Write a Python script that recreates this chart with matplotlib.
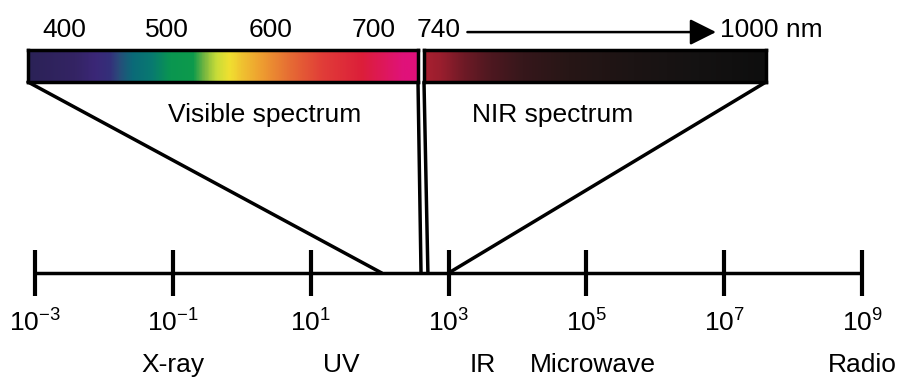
import numpy as np
import matplotlib
matplotlib.use('Agg')
import matplotlib.pyplot as plt
from matplotlib.colors import LinearSegmentedColormap
from matplotlib.patches import ConnectionPatch

plt.rcParams['font.family'] = ['Liberation Sans', 'DejaVu Sans']
plt.rcParams['mathtext.fontset'] = 'custom'
plt.rcParams['mathtext.rm'] = 'Liberation Sans'

# --- data ---
decades = [-3, -1, 1, 3, 5, 7, 9]          # log10 of wavelength (nm) at the ticks
bands = ['X-ray', 'UV', 'IR', 'Microwave', 'Radio']
band_pos = [-1.0, 1.45, 3.5, 5.1, 9.0]
vis_range = (365, 743)
nir_range = (740, 1000)
vis_ticks = [400, 500, 600, 700]
vis_wl = [365, 410, 430, 444, 452, 466, 485, 503, 525, 536, 548, 560, 572, 590, 619, 650, 690, 730, 743]
vis_colors = ['#2b2257', '#342464', '#3b2777', '#34307a', '#2a4a7a', '#0b6a78', '#087a70', '#0a9650',
              '#0d9a4c', '#7ab840', '#c8dc38', '#f0e030', '#f0c430', '#eea030', '#e66c34',
              '#e13e38', '#dc1e3a', '#e0127a', '#e0107a']
nir_wl = [740, 752, 770, 790, 815, 850, 900, 950, 1000]
nir_colors = ['#a82030', '#9a1e2e', '#6e1a26', '#4e1820', '#36171b', '#271616', '#1c1414', '#141212', '#0e0e0e']
meet = [2.03, 2.6, 2.7, 3.0]                # where the fan lines reach the axis

fig = plt.figure(figsize=(8.98, 3.79), dpi=100)
ax = fig.add_axes([0, 0, 1, 1])
ax.set_xlim(-3.508, 9.52)
ax.set_ylim(-106, 273)
ax.axis('off')

# main log axis
ax.plot([decades[0], decades[-1]], [0, 0], color='k', lw=2.5, solid_capstyle='butt')
ax.vlines(decades, -23, 23, color='k', lw=3)
for d in decades:
    ax.text(d, -59, r'$\mathregular{10^{%d}}$' % d, ha='center', va='baseline', fontsize=19)
for name, p in zip(bands, band_pos):
    ax.text(p, -99, name, ha='center', va='baseline', fontsize=19)


def spectrum_bar(rect, rng, wl, cols):
    a = fig.add_axes(rect)
    cmap = LinearSegmentedColormap.from_list(
        'c', list(zip((np.array(wl) - rng[0]) / (rng[1] - rng[0]), cols)))
    grad = np.linspace(rng[0], rng[1], 500)[None, :]
    a.imshow(grad, extent=[rng[0], rng[1], 0, 1], aspect='auto', cmap=cmap,
             vmin=rng[0], vmax=rng[1])
    a.set_xticks([])
    a.set_yticks([])
    for s in a.spines.values():
        s.set_linewidth(2.5)
    return a


ax_vis = spectrum_bar([28 / 898, 297 / 379, 390 / 898, 32 / 379], vis_range, vis_wl, vis_colors)
ax_nir = spectrum_bar([424 / 898, 297 / 379, 342 / 898, 32 / 379], nir_range, nir_wl, nir_colors)

for t in vis_ticks:
    ax_vis.annotate(str(t), xy=(t, 1), xycoords=('data', 'axes fraction'),
                    xytext=(0, 9.5), textcoords='offset points',
                    ha='center', va='baseline', fontsize=19)
ax_nir.annotate('740', xy=(734.5, 1), xycoords=('data', 'axes fraction'),
                xytext=(0, 9.5), textcoords='offset points',
                ha='left', va='baseline', fontsize=19)
ax_nir.annotate('1000 nm', xy=(965, 1), xycoords=('data', 'axes fraction'),
                xytext=(0, 9.5), textcoords='offset points',
                ha='left', va='baseline', fontsize=19, annotation_clip=False)
ax_nir.annotate('', xy=(962, 1.56), xytext=(773, 1.56),
                xycoords=('data', 'axes fraction'), textcoords=('data', 'axes fraction'),
                arrowprops=dict(arrowstyle='-|>,head_length=1.6,head_width=0.8',
                                color='k', lw=1.8, shrinkA=0, shrinkB=0),
                annotation_clip=False)

# fan lines from bar corners down to the axis
corners = [(ax_vis, vis_range[0]), (ax_vis, vis_range[1]), (ax_nir, nir_range[0]), (ax_nir, nir_range[1])]
for (a, wl), m in zip(corners, meet):
    con = ConnectionPatch(xyA=(wl, 0), coordsA=a.transData, xyB=(m, 0), coordsB=ax.transData,
                          color='k', lw=2.5)
    fig.add_artist(con)

fig.text(265 / 898, 1 - 122 / 379, 'Visible spectrum', ha='center', va='baseline', fontsize=19)
fig.text(553 / 898, 1 - 122 / 379, 'NIR spectrum', ha='center', va='baseline', fontsize=19)

fig.savefig('out.png', dpi=100)
